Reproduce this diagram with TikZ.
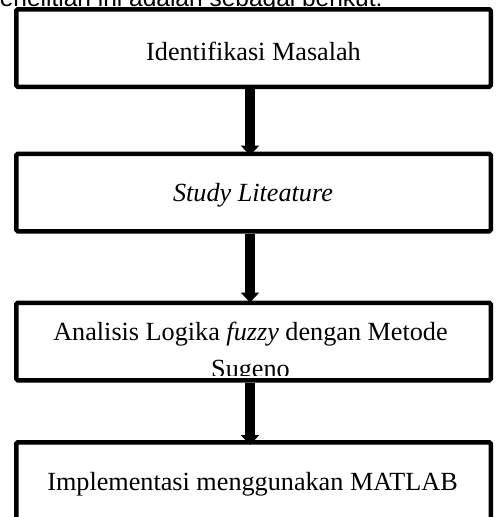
\documentclass[tikz,border=0pt]{standalone}
\usepackage{fontspec}
\setmainfont{Liberation Serif}
\newfontfamily\headfont{Liberation Sans}
\usetikzlibrary{arrows.meta}
\usetikzlibrary{positioning}

\tikzset{
    stage/.style={
        rectangle,
        minimum width=474.5pt, minimum height=77.5pt,
        draw=black, line width=4.5pt, rounded corners=1.5pt,
        fill=white, inner sep=0pt,
    },
    stagetext/.style={
        anchor=base, inner sep=0pt,
        text=black,
        font=\fontsize{26.2}{30.5}\selectfont,
    },
    flow/.style={
        draw=black, line width=10pt,
        -{Triangle[width=18pt, length=10pt]},
    },
}

\begin{document}
\begin{tikzpicture}[x=1pt, y=-1pt]
    \useasboundingbox (0,0) rectangle (496,517);
    \clip (0,0) rectangle (496,517);

    % line of the page above the chart
    \node (intro) at(-14,6) [
        anchor=base west, inner sep=0pt,
        font=\headfont\fontsize{24.5}{28}\selectfont,
    ] {penelitian ini adalah sebagai berikut:};

    \node (ident) at(253.5,48) [stage] {};
    \node (study) at(253.5,192.5) [stage] {};
    \node (fuzzy) at(253.5,341.5) [stage] {};
    \node (matlab) at(253.5,481) [stage] {};

    \node (identtext) at(253.5,60.5) [stagetext] {Identifikasi Masalah};
    \node (studytext) at(253,201.5) [stagetext] {\itshape Study Liteature};
    \begin{scope}
        \clip (fuzzy.north west) rectangle ([yshift=7pt]fuzzy.south east);
        \node (fuzzytext) at(250.5,340.5) [stagetext] {Analisis Logika \textit{fuzzy} dengan Metode};
        \node (sugeno) at(250.5,377) [stagetext] {Sugeno};
    \end{scope}
    \node (matlabtext) at(252.5,490) [stagetext] {Implementasi menggunakan MATLAB};

    % arrows
    \draw[flow] ([xshift=-3.5pt]ident.south) -- ([xshift=-3.5pt,yshift=-4pt]study.north);
    \draw[flow] ([xshift=-3.5pt]study.south) -- ([xshift=-3.5pt,yshift=-2pt]fuzzy.north);
    \draw[flow] ([xshift=-3.5pt]fuzzy.south) -- ([xshift=-3.5pt,yshift=-5pt]matlab.north);
\end{tikzpicture}
\end{document}
